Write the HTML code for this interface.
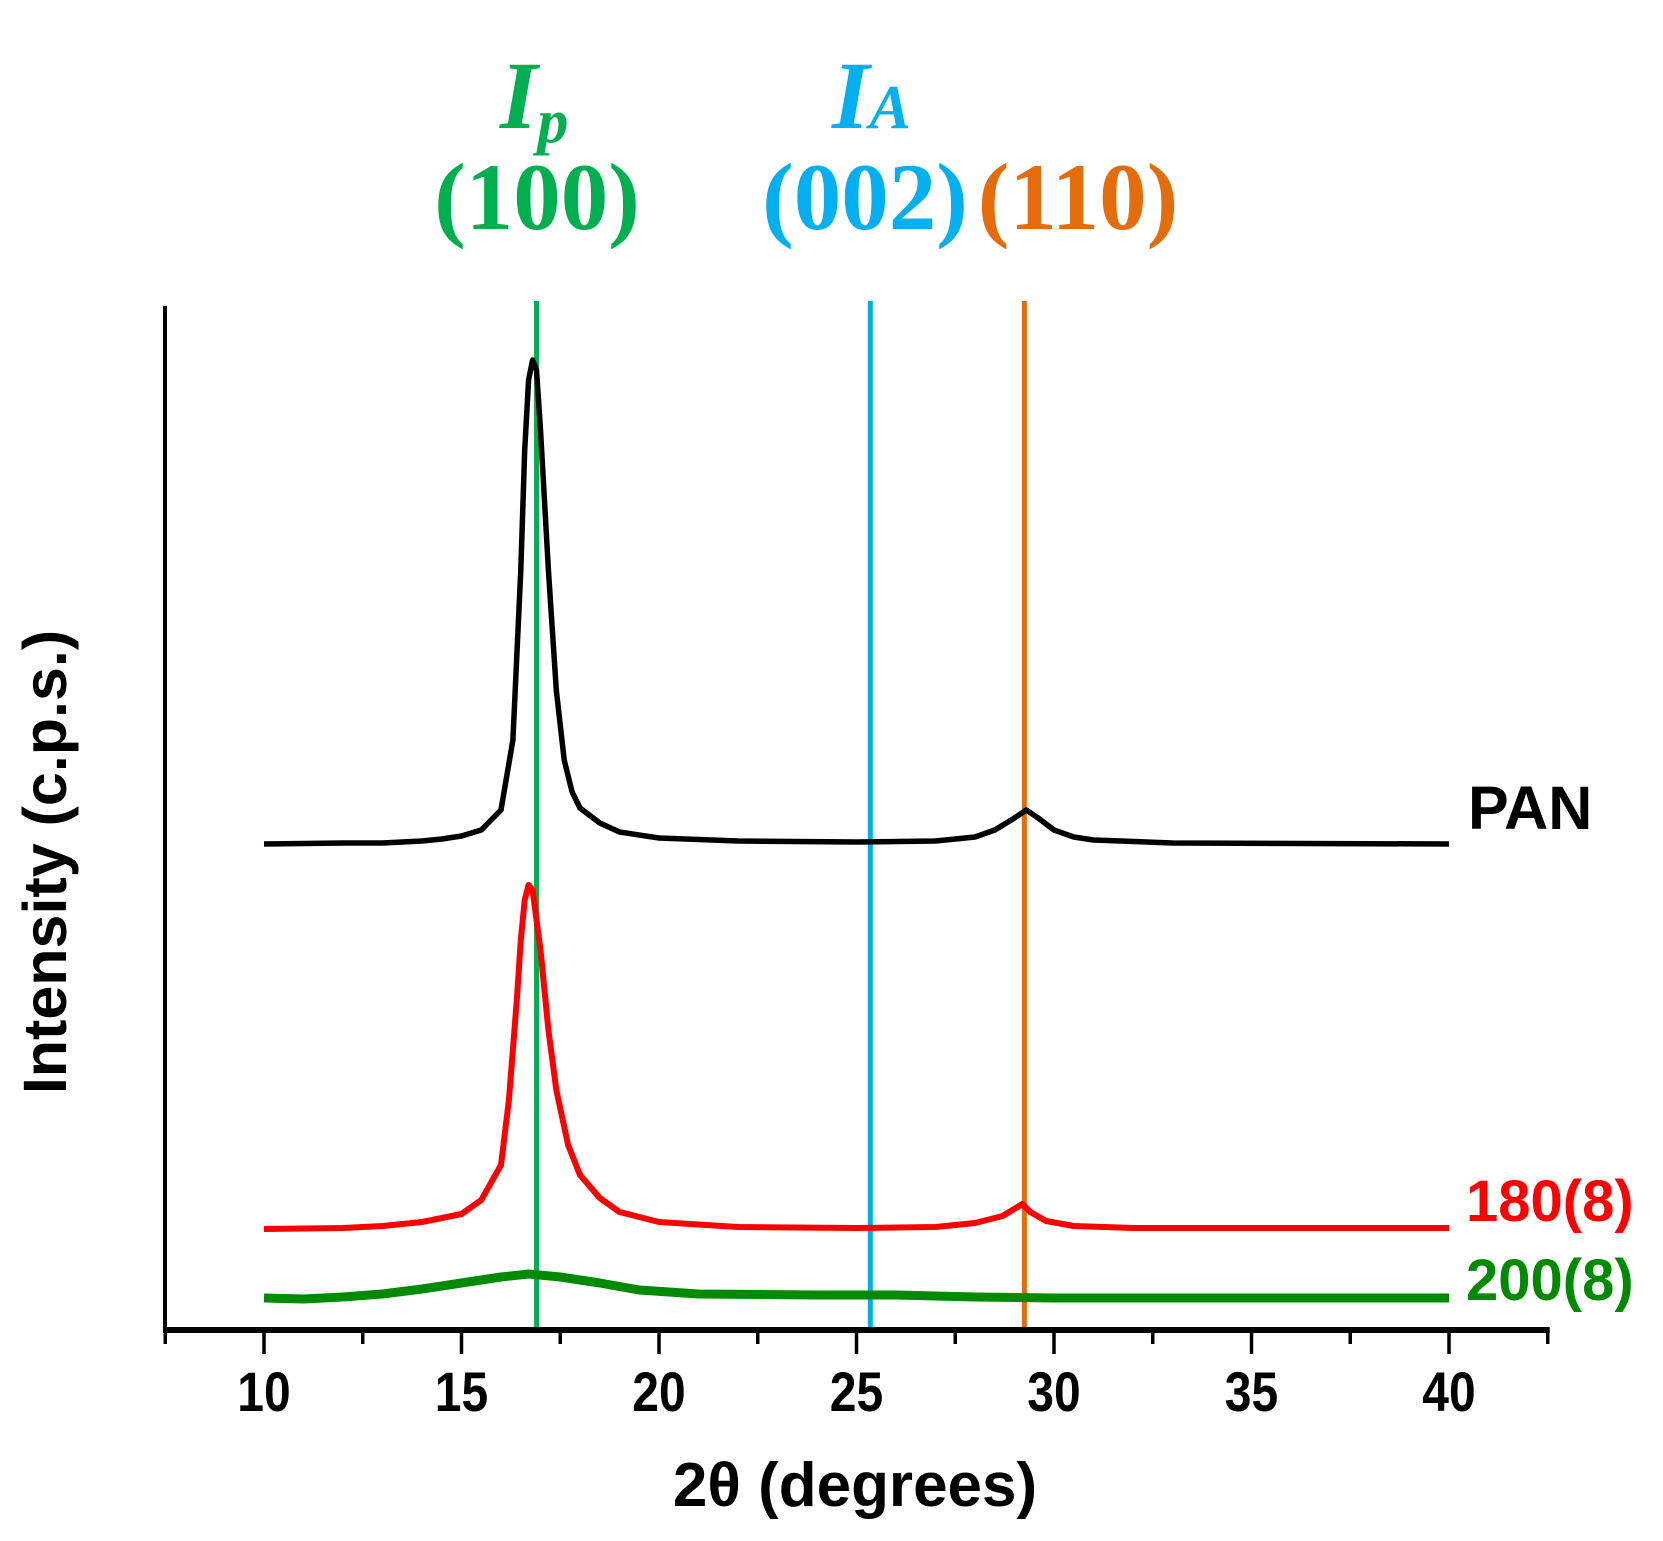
<!DOCTYPE html>
<html><head><meta charset="utf-8"><style>
html,body{margin:0;padding:0;background:#fff;}
svg{display:block;}
.ax{font-family:"Liberation Sans",Arial,sans-serif;font-weight:bold;}
.tm{font-family:"Liberation Serif","Times New Roman",serif;font-weight:bold;}
</style></head><body>
<svg id="chart" width="1663" height="1541" viewBox="0 0 1663 1541" xmlns="http://www.w3.org/2000/svg">
<g id="refs"></g>
<g id="series"></g>
<g id="axes"></g>
<text class="ax" x="855" y="1506" font-size="62" text-anchor="middle">2θ (degrees)</text>
<text class="ax" transform="translate(66,862) rotate(-90)" font-size="61" text-anchor="middle">Intensity (c.p.s.)</text>
<text class="ax" x="1468" y="829" font-size="61" fill="#000">PAN</text>
<text class="ax" x="1466" y="1221" font-size="58" fill="#ff0000">180(8)</text>
<text class="ax" x="1466" y="1300" font-size="58" fill="#008a00">200(8)</text>
<text class="tm" x="500" y="128" font-size="96" fill="#00b050" font-style="italic">I<tspan font-size="62" dy="14">p</tspan></text>
<text class="tm" x="832" y="128" font-size="96" fill="#00b0f0" font-style="italic">I<tspan font-size="62" dy="0">A</tspan></text>
<text class="tm" x="537" y="229" font-size="95" fill="#00b050" text-anchor="middle">(100)</text>
<text class="tm" x="865" y="229" font-size="95" fill="#00b0f0" text-anchor="middle">(002)</text>
<text class="tm" x="1078" y="229" font-size="95" fill="#e46c0a" text-anchor="middle">(110)</text>
</svg>
<script>
const xTicks = [10, 15, 20, 25, 30, 35, 40];
const xMinor = [7.5, 12.5, 17.5, 22.5, 27.5, 32.5, 37.5, 42.5];
const refPositions = [16.9, 25.35, 29.25];
const refNames = ['ref-line-100', 'ref-line-002', 'ref-line-110'];
const panX = [10,12,13,14,14.5,15,15.5,16,16.3,16.5,16.6,16.7,16.8,16.9,17.0,17.2,17.4,17.6,17.8,18,18.5,19,20,22,25,27,28,28.5,29,29.3,29.6,30,30.5,31,33,40];
const panY = [486,487,487,489,491,494,500,520,590,760,880,950,970,960,900,760,640,570,538,522,507,498,492,489,488,489,493,500,512,520,512,500,493,490,487,486];
const redX = [10,12,13,14,15,15.5,16,16.2,16.4,16.5,16.6,16.7,16.8,16.9,17,17.2,17.4,17.7,18,18.5,19,20,22,25,27,28,28.7,29.2,29.4,29.8,30.5,32,40];
const redY = [101,102,104,108,116,130,165,230,330,390,430,445,440,410,380,300,240,185,155,132,118,108,103,102,103,107,114,126,118,109,104,102,102];
const grnX = [10,11,12,13,14,15,16,16.7,17.5,18.5,19.5,21,24,26,28,30,35,40];
const grnY = [32,31,33,36,41,47,53,56,53,47,40,36,35,35,33,32,32,32];

const X0 = 264, PXD = 39.5, YAX = 1330;
function sx(v){ return X0 + (v - 10) * PXD; }
function sy(v){ return YAX - v; }
const NS = 'http://www.w3.org/2000/svg';
function mk(tag, attrs, parent){ const e = document.createElementNS(NS, tag); for (const k in attrs) e.setAttribute(k, attrs[k]); parent.appendChild(e); return e; }

const refs = document.getElementById('refs');
const refColors = ['#00b050', '#00b0f0', '#e46c0a'];
refPositions.forEach((p, i) => {
  const l = mk('line', {x1: sx(p), x2: sx(p), y1: 301, y2: YAX, stroke: refColors[i], 'stroke-width': 5}, refs);
  
  
});

const series = document.getElementById('series');
function drawSeries(xs, ys, color, w, name){
  const pts = xs.map((x, i) => sx(x).toFixed(1) + ',' + sy(ys[i]).toFixed(1)).join(' ');
  const pl = mk('polyline', {points: pts, fill: 'none', stroke: color, 'stroke-width': w, 'stroke-linejoin': 'round'}, series);
  
  
}
drawSeries(panX, panY, '#000', 5.5, 'pan-trace');
drawSeries(redX, redY, '#ff0000', 6, 'trace-180-8');
drawSeries(grnX, grnY, '#008a00', 9, 'trace-200-8');

const axes = document.getElementById('axes');
const ya = mk('line', {x1: 165, x2: 165, y1: 306, y2: YAX + 2, stroke: '#000', 'stroke-width': 4}, axes);


const xa = mk('line', {x1: 163, x2: sx(42.5) + 2, y1: YAX, y2: YAX, stroke: '#000', 'stroke-width': 6}, axes);


xTicks.forEach(t => {
  const tk = mk('line', {x1: sx(t), x2: sx(t), y1: YAX, y2: YAX + 24, stroke: '#000', 'stroke-width': 3.5}, axes);
  
  
  const tx = mk('text', {x: 0, y: 0, 'font-size': 48, 'text-anchor': 'middle', class: 'ax', transform: 'translate(' + sx(t) + ',1411) scale(1,1.15)'}, axes);
  tx.textContent = String(t);
  
  
});
xMinor.forEach(t => {
  const tk = mk('line', {x1: sx(t), x2: sx(t), y1: YAX, y2: YAX + 14, stroke: '#000', 'stroke-width': 3.5}, axes);
  
  
});
</script>
</body></html>
